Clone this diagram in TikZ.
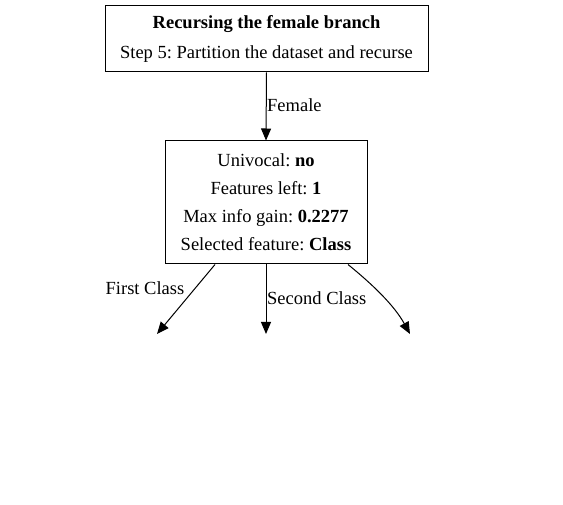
\documentclass[tikz,border=0pt]{standalone}
\usepackage{fontspec}
\setmainfont{Liberation Serif}
\usetikzlibrary{arrows.meta}
\frenchspacing
\tikzset{
  box/.style={draw, line width=1pt, inner sep=0pt, align=center,
    font=\fontsize{18.5}{28}\selectfont},
  lbl/.style={font=\fontsize{18.5}{22}\selectfont, inner sep=0pt},
  edge/.style={line width=1pt, -{Triangle[length=12pt,width=10pt]}}
}
\begin{document}
\begin{tikzpicture}[x=1pt,y=-1pt]
\useasboundingbox (0,0) rectangle (563,505);
\node[box, minimum width=323pt, minimum height=66pt] (top) at (266.5,39)
  {\textbf{Recursing the female branch}\\[2pt]Step 5: Partition the dataset and recurse};
\node[box, minimum width=202pt, minimum height=123pt] (mid) at (266,202.5)
  {Univocal: \textbf{no}\\Features left: \textbf{1}\\Max info gain: \textbf{0.2277}\\Selected feature: \textbf{Class}};
\coordinate (e1) at (157,334);
\coordinate (e2) at (266,334);
\coordinate (e3) at (410,334);
\draw[edge] (top.south) -- (mid.north);
\node[lbl, anchor=west] (lf) at (267,105) {Female};
\draw[edge] (mid.south -| 215,0) -- (e1);
\node[lbl] (l1) at (145,288) {First Class};
\draw[edge] (mid.south) -- (e2);
\node[lbl, anchor=west] (l2) at (267,298) {Second Class};
\draw[edge] (mid.south -| 348,0) .. controls (372,284) and (394,305) .. (e3);
\end{tikzpicture}
\end{document}
